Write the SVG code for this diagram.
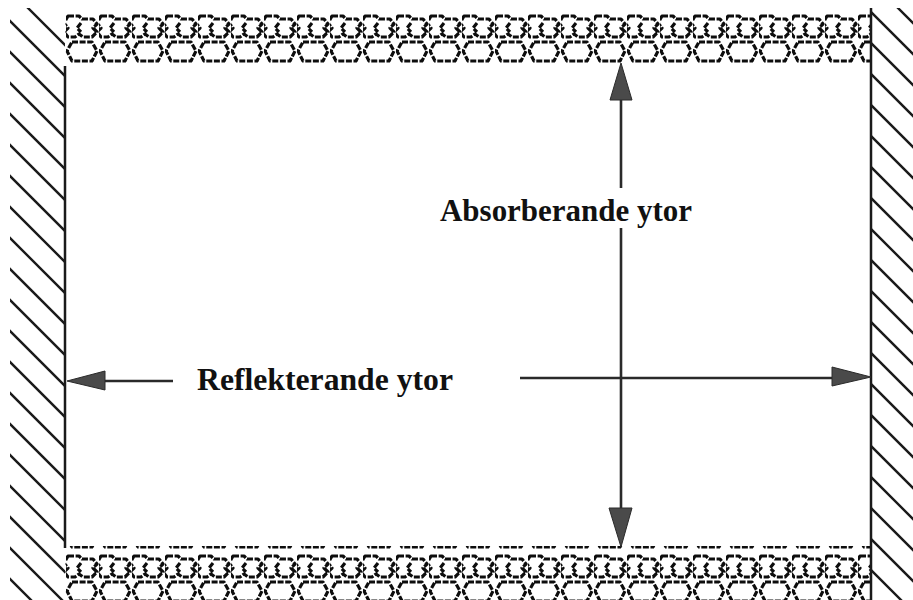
<svg xmlns="http://www.w3.org/2000/svg" width="913" height="600" viewBox="0 0 913 600">
  <defs>
    <style>
      .hatch { stroke: #1a1a1a; stroke-width: 2.4; fill: none; }
      .wall { stroke: #1a1a1a; stroke-width: 2.5; fill: none; }
      .absorb { stroke: #0d0d0d; stroke-width: 3.2; fill: none; stroke-dasharray: 6 1.6; stroke-linejoin: round; }
      .arrow { stroke: #2a2a2a; stroke-width: 2.6; fill: none; }
      .head { fill: #4a4a4a; stroke: #2a2a2a; stroke-width: 1; }
      .label { font-family: "Liberation Serif", "Times New Roman", serif; font-weight: bold; font-size: 32px; fill: #111; }
    </style>
    <pattern id="absorber" x="0" y="12" width="33" height="54" patternUnits="userSpaceOnUse">
      <path class="absorb" d="M2,4 h11 l3,3 h11 l4,5 l-4,4 l4,4 l-5,5 h-9 l-4,-3 l-4,3 h-7 l-4,-5 l4,-4 l-4,-5 z M15,11 l-4,5 l4,4"/>
      <path class="absorb" d="M6,30 h20 l5,9 l-5,10 h-20 l-5,-10 z"/>
    </pattern>
    <clipPath id="leftClip"><rect x="10" y="8" width="55" height="592"/></clipPath>
    <clipPath id="rightClip"><rect x="871" y="8" width="42" height="592"/></clipPath>
  </defs>

  <rect width="913" height="600" fill="#ffffff"/>

  <g id="top-absorber">
    <rect x="65" y="12" width="805" height="54" fill="url(#absorber)"/>
  </g>
  <g id="bottom-absorber">
    <rect x="65" y="546" width="805" height="54" fill="url(#absorber)"/>
  </g>

  <g id="left-reflector">
    <g clip-path="url(#leftClip)">
      <path class="hatch" d="M0,-20 l80,80 M0,11 l80,80 M0,42 l80,80 M0,73 l80,80 M0,104 l80,80 M0,135 l80,80 M0,166 l80,80 M0,197 l80,80 M0,228 l80,80 M0,259 l80,80 M0,290 l80,80 M0,321 l80,80 M0,352 l80,80 M0,383 l80,80 M0,414 l80,80 M0,445 l80,80 M0,476 l80,80 M0,507 l80,80 M0,538 l80,80 M0,569 l80,80 M0,600 l80,80"/>
    </g>
    <line class="wall" x1="65" y1="66" x2="65" y2="548"/>
  </g>

  <g id="right-reflector">
    <g clip-path="url(#rightClip)">
      <path class="hatch" d="M860,-30 l80,80 M860,1 l80,80 M860,32 l80,80 M860,63 l80,80 M860,94 l80,80 M860,125 l80,80 M860,156 l80,80 M860,187 l80,80 M860,218 l80,80 M860,249 l80,80 M860,280 l80,80 M860,311 l80,80 M860,342 l80,80 M860,373 l80,80 M860,404 l80,80 M860,435 l80,80 M860,466 l80,80 M860,497 l80,80 M860,528 l80,80 M860,559 l80,80 M860,590 l80,80"/>
    </g>
    <line class="wall" x1="871" y1="8" x2="871" y2="600"/>
  </g>

  <g id="connectors">
    <line class="arrow" x1="621" y1="98" x2="621" y2="188"/>
    <line class="arrow" x1="621" y1="228" x2="621" y2="510"/>
    <polygon class="head" points="621,63 610,100 632,100"/>
    <polygon class="head" points="621,547 609,508 632,508"/>
    <line class="arrow" x1="103" y1="381" x2="173" y2="381"/>
    <polygon class="head" points="67,381 105,371 105,390"/>
    <line class="arrow" x1="520" y1="378" x2="834" y2="378"/>
    <polygon class="head" points="871,377 832,367 832,386"/>
  </g>

  <g id="label-absorberande">
    <text class="label" x="440" y="221" textLength="252" lengthAdjust="spacingAndGlyphs">Absorberande ytor</text>
  </g>
  <g id="label-reflekterande">
    <text class="label" x="197" y="390" textLength="256" lengthAdjust="spacingAndGlyphs">Reflekterande ytor</text>
  </g>
</svg>
